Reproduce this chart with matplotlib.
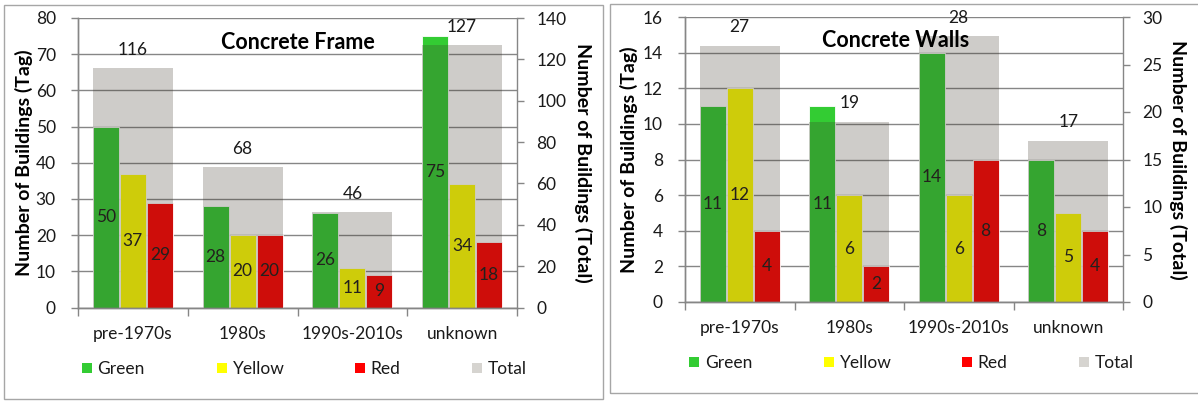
import matplotlib.pyplot as plt
import numpy as np
from matplotlib.patches import Patch, Rectangle

plt.rcParams['font.family'] = ['Lato', 'DejaVu Sans']

# --- Data ---
CATEGORIES = ['pre-1970s', '1980s', '1990s-2010s', 'unknown']

FRAME_GREEN = [50, 28, 26, 75]
FRAME_YELLOW = [37, 20, 11, 34]
FRAME_RED = [29, 20, 9, 18]
FRAME_TOTAL = [116, 68, 46, 127]

WALLS_GREEN = [11, 11, 14, 8]
WALLS_YELLOW = [12, 6, 6, 5]
WALLS_RED = [4, 2, 8, 4]
WALLS_TOTAL = [27, 19, 28, 17]

LEGEND_NAMES = ['Green', 'Yellow', 'Red', 'Total']

# --- Style ---
COLORS = {'Green': '#33cc33', 'Yellow': '#ffff00', 'Red': '#ff0000', 'Total': '#d6d4d0'}
TOTAL_OVERLAY = '#3e3428'   # dark tone, drawn translucent over the tag bars
AXIS_GRAY = '#868686'
TEXT = '#1a1a1a'
FS = 12.5
LEGEND_OFFSETS = [4, 139, 277, 394]   # px from the left axis line

W, H = 1198, 401


def px_box(x0, y_top, x1, y_bottom):
    """Pixel box (top-left origin) -> figure fraction rect."""
    return [x0 / W, 1 - y_bottom / H, (x1 - x0) / W, (y_bottom - y_top) / H]


def draw_panel(fig, rect, title, title_x, green, yellow, red, total,
               ymax, ystep, y2max, y2step, lab_left_x, lab_right_x, legend_y):
    ax = fig.add_axes(rect)
    ax2 = ax.twinx()

    n = len(CATEGORIES)
    x = np.arange(n)
    pitch = 0.246
    bw = 0.236
    for i, (name, vals) in enumerate([('Green', green), ('Yellow', yellow), ('Red', red)]):
        xs = x + (i - 1) * pitch
        ax.bar(xs, vals, width=bw, color=COLORS[name], edgecolor='white',
               linewidth=0.6, zorder=2)
        for xi, v in zip(xs, vals):
            ax.text(xi, v / 2, f'{v}', ha='center', va='center',
                    fontsize=FS, color=TEXT, zorder=5)

    # totals on the secondary axis, translucent so the tag bars show through
    ax2.bar(x, total, width=0.727, color=TOTAL_OVERLAY, alpha=0.25,
            linewidth=0, zorder=1)
    for xi, v in zip(x, total):
        ax2.annotate(f'{v}', (xi, v), xytext=(0, 13), textcoords='offset points',
                     ha='center', va='center', fontsize=FS, color=TEXT)

    ax.set_xlim(-0.5, n - 0.5)
    ax.set_ylim(0, ymax)
    ax2.set_ylim(0, y2max)
    ax.set_yticks(np.arange(0, ymax + ystep / 2, ystep))
    ax2.set_yticks(np.arange(0, y2max + y2step / 2, y2step))

    # group boundary ticks, labels in the middle
    ax.set_xticks(np.arange(-0.5, n, 1.0))
    ax.set_xticklabels([])
    ax.set_xticks(x, minor=True)
    ax.set_xticklabels(CATEGORIES, minor=True)
    ax.tick_params(axis='x', which='major', length=6, width=1, color=AXIS_GRAY, direction='out')
    ax.tick_params(axis='x', which='minor', length=0, pad=13, labelsize=FS, labelcolor=TEXT)
    ax.tick_params(axis='y', length=5, width=1, color=AXIS_GRAY, pad=11,
                   labelsize=FS, labelcolor=TEXT)
    ax2.tick_params(axis='y', length=5, width=1, color=AXIS_GRAY, pad=9,
                    labelsize=FS, labelcolor=TEXT)

    ax.yaxis.grid(True, color=AXIS_GRAY, linewidth=1)
    ax.set_axisbelow(True)
    for a in (ax, ax2):
        a.spines['top'].set_visible(False)
        for s in ('left', 'right', 'bottom'):
            a.spines[s].set_color(AXIS_GRAY)
            a.spines[s].set_linewidth(1)
    ax.spines['right'].set_visible(False)

    ax2.text(title_x, 0.917, title, transform=ax.transAxes, ha='center', va='center',
             fontsize=15.5, fontweight='bold', color='black', zorder=6)

    yc = rect[1] + rect[3] / 2
    fig.text(lab_left_x / W, yc, 'Number of Buildings (Tag)',
             rotation=90, ha='center', va='center', fontsize=14, fontweight='bold')
    fig.text(lab_right_x / W, yc, 'Number of Buildings (Total)',
             rotation=270, ha='center', va='center', fontsize=14, fontweight='bold')

    # one legend entry per slot, spaced like the source layout
    for name, off in zip(LEGEND_NAMES, LEGEND_OFFSETS):
        leg = fig.legend([Patch(facecolor=COLORS[name], edgecolor='none')], [name],
                         frameon=False, loc='center left',
                         bbox_to_anchor=(rect[0] + off / W, 1 - legend_y / H),
                         fontsize=FS, handlelength=0.55, handleheight=0.55,
                         handletextpad=0.35, borderpad=0, borderaxespad=0,
                         labelcolor=TEXT)
    return ax, ax2


fig = plt.figure(figsize=(W / 100, H / 100), dpi=100)

# panel frames
for (x0, y0, x1, y1) in [(4, 5, 603, 399), (610, 4, 1205, 393)]:
    r = px_box(x0, y0, x1, y1)
    fig.patches.append(Rectangle((r[0], r[1]), r[2], r[3], transform=fig.transFigure,
                                 fill=False, edgecolor='#a6a6a6', linewidth=1))

draw_panel(fig, px_box(78, 18, 517, 307.5), 'Concrete Frame', 0.50,
           FRAME_GREEN, FRAME_YELLOW, FRAME_RED, FRAME_TOTAL,
           80, 10, 140, 20, 24, 583, 369)
draw_panel(fig, px_box(685, 17, 1123, 302), 'Concrete Walls', 0.48,
           WALLS_GREEN, WALLS_YELLOW, WALLS_RED, WALLS_TOTAL,
           16, 2, 30, 5, 629, 1178, 363)

plt.savefig('out.png', dpi=100)
